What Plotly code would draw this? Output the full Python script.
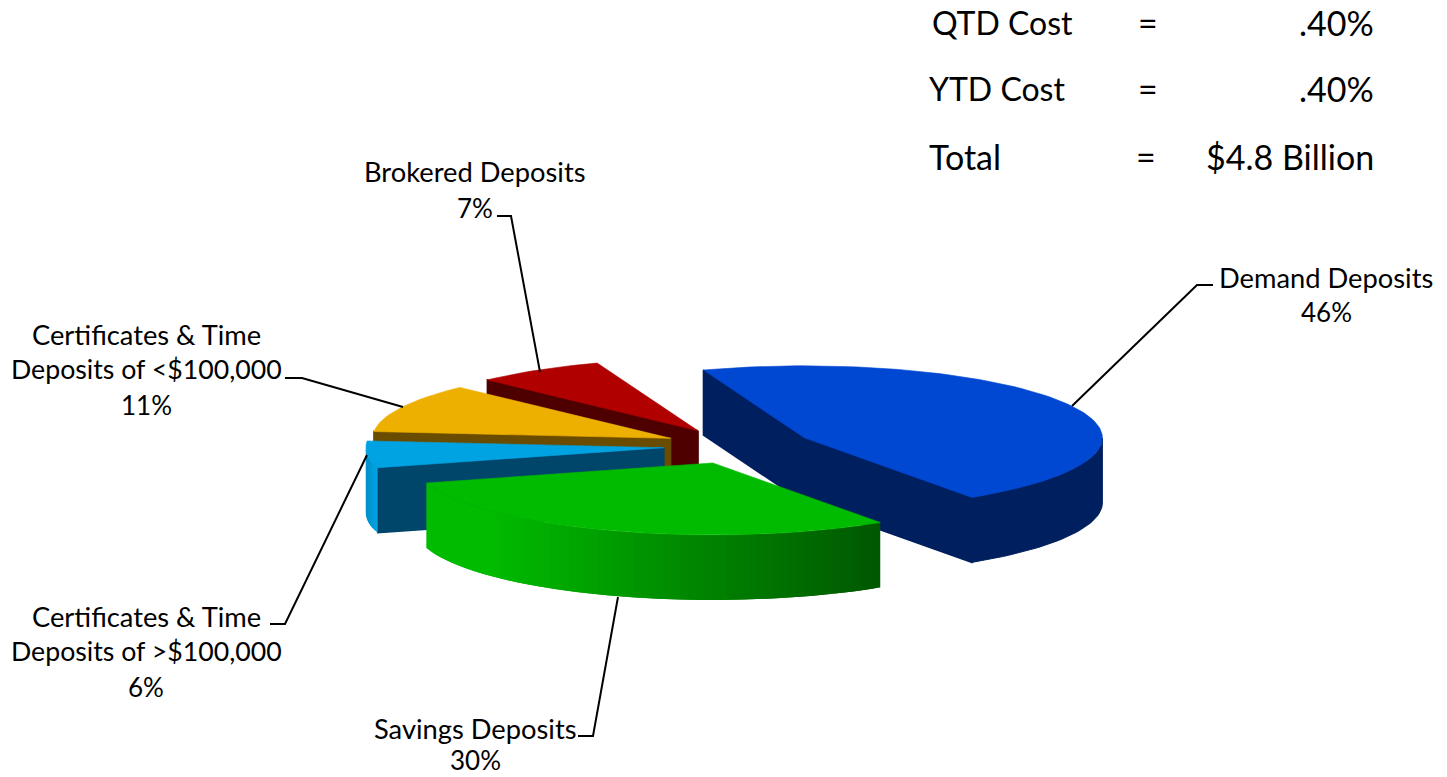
import math
import plotly.graph_objects as go

# ---- data ----
names = ["Demand Deposits", "Savings Deposits", "Certificates & Time Deposits of >$100,000",
         "Certificates & Time Deposits of <$100,000", "Brokered Deposits"]
shares = [46, 30, 6, 11, 7]
label_lines = [["Demand Deposits", "46%"],
               ["Savings Deposits", "30%"],
               ["Certificates & Time", "Deposits of >$100,000", "6%"],
               ["Certificates & Time", "Deposits of <$100,000", "11%"],
               ["Brokered Deposits", "7%"]]
summary_names = ["QTD Cost", "YTD Cost", "Total"]
summary_values = [".40%", ".40%", "$4.8 Billion"]

# ---- style and layout ----
top_colors = ["#0047D2", "#00BB00", "#00A3E2", "#EEB000", "#B00000"]
cut_colors = ["#001F5E", "#00BB00", "#00466A", "#6A4C00", "#4E0000"]
wall_from = ["#001F5E", "#00BB00", "#0090CC", "#6A4C00", "#4E0000"]
wall_to = ["#001F5E", "#005800", "#00A3E2", "#6A4C00", "#4E0000"]
draw_order = [0, 4, 3, 2, 1]
CX, CY, RX, RY, DEPTH, PULL, START = 738, 446, 298, 72, 65, 0.25, 109.8
WALL_FLAT = 0.15
FONT = "Lato"
LABEL_SIZE = 27.3
DEPOSITS_OF_SIZE = 26.7
PCT_SIZE = 26
label_pos = [(1326, [277, 312]), (475, [728, 760]), (146, [616, 651, 687]),
             (146, [334, 369, 405]), (475, [171, 208])]
leaders = [[(1072, 406), (1197, 285), (1213, 285)],
           [(618, 597), (593, 736), (578, 736)],
           [(367, 455), (285, 624), (270, 624)],
           [(403, 407), (302, 378), (285, 378)],
           [(540, 372), (511, 216), (497, 216)]]
summary_left = [930, 927, 927]
summary_name_size = [32, 32, 34]
summary_value_size = 34
summary_eq = [1148, 1148, 1146]
summary_right = 1376
summary_y = [22, 88, 156]


def rgb(h):
    return [int(h[i:i + 2], 16) for i in (1, 3, 5)]


def mix(a, b, f):
    ca, cb = rgb(a), rgb(b)
    return "rgb(%d,%d,%d)" % tuple(round(x + (y - x) * f) for x, y in zip(ca, cb))


def poly(fig, pts, color, lw=0.6):
    fig.add_trace(go.Scatter(x=[p[0] for p in pts] + [pts[0][0]], y=[p[1] for p in pts] + [pts[0][1]],
                             mode="lines", fill="toself", fillcolor=color,
                             line=dict(color=color, width=lw), hoverinfo="skip", showlegend=False))


def rim(ax, ay, t):
    r = math.radians(t)
    return (ax + RX * math.cos(r), ay - RY * math.sin(r))


fig = go.Figure()
total = sum(shares)
angles = [START]
for s in shares:
    angles.append(angles[-1] - s / total * 360)

for i in draw_order:
    t0, t1 = angles[i], angles[i + 1]
    mid = math.radians((t0 + t1) / 2)
    ax = CX + PULL * RX * math.cos(mid)
    ay = CY - PULL * RY * math.sin(mid)
    if math.cos(math.radians(t0)) < 0:
        p = rim(ax, ay, t0)
        poly(fig, [(ax, ay), p, (p[0], p[1] + DEPTH), (ax, ay + DEPTH)], cut_colors[i], 1.5)
    if math.cos(math.radians(t1)) > 0:
        p = rim(ax, ay, t1)
        poly(fig, [(ax, ay), p, (p[0], p[1] + DEPTH), (ax, ay + DEPTH)], cut_colors[i], 1.5)
    n = max(2, int((t0 - t1) / 1.5))
    ts = [t0 + (t1 - t0) * k / n for k in range(n + 1)]
    lo = min(rim(ax, ay, t)[0] for t in ts)
    hi = max(rim(ax, ay, t)[0] for t in ts)
    front = [t for t in ts if math.sin(math.radians(t)) < 0]
    if front and wall_from[i] == wall_to[i]:
        # one colour: a single wall polygon
        up = [rim(ax, ay, t) for t in front]
        poly(fig, up + [(p[0], p[1] + DEPTH) for p in reversed(up)], wall_from[i], 1.0)
    elif front:
        # shaded wall: overlapping strips from one end to the other
        for k in range(len(front) - 1):
            a, b = front[k], front[min(k + 2, len(front) - 1)]
            pa, pb = rim(ax, ay, a), rim(ax, ay, b)
            f = (rim(ax, ay, front[k])[0] - lo) / (hi - lo)
            f = max(0, (f - WALL_FLAT) / (1 - WALL_FLAT))
            poly(fig, [pa, pb, (pb[0], pb[1] + DEPTH), (pa[0], pa[1] + DEPTH)],
                 mix(wall_from[i], wall_to[i], f), 0)
    poly(fig, [(ax, ay)] + [rim(ax, ay, t) for t in ts], top_colors[i])

for line in leaders:
    fig.add_trace(go.Scatter(x=[p[0] for p in line], y=[p[1] for p in line], mode="lines",
                             line=dict(color="black", width=2), hoverinfo="skip", showlegend=False))


def text(x, y, s, size, anchor="center"):
    fig.add_annotation(x=x, y=y, text=s, showarrow=False, xanchor=anchor, yanchor="middle",
                       font=dict(family=FONT, size=size, color="black"))


for lines, (x, ys) in zip(label_lines, label_pos):
    for s, y in zip(lines, ys):
        if s.endswith("%"):
            size = PCT_SIZE
        elif s.startswith("Deposits of"):
            size = DEPOSITS_OF_SIZE
        else:
            size = LABEL_SIZE
        text(x, y, s, size)
for k in range(3):
    text(summary_left[k], summary_y[k], summary_names[k], summary_name_size[k], "left")
    text(summary_eq[k], summary_y[k], "=", summary_value_size)
    text(summary_right, summary_y[k], summary_values[k], summary_value_size, "right")

fig.update_layout(width=1447, height=777, margin=dict(l=0, r=0, t=0, b=0),
                  paper_bgcolor="white", plot_bgcolor="white", showlegend=False,
                  xaxis=dict(range=[0, 1447], visible=False, fixedrange=True),
                  yaxis=dict(range=[777, 0], visible=False, fixedrange=True))
fig.write_html("out.html", config=dict(displayModeBar=False),
               post_script="document.body.style.margin='0';")
